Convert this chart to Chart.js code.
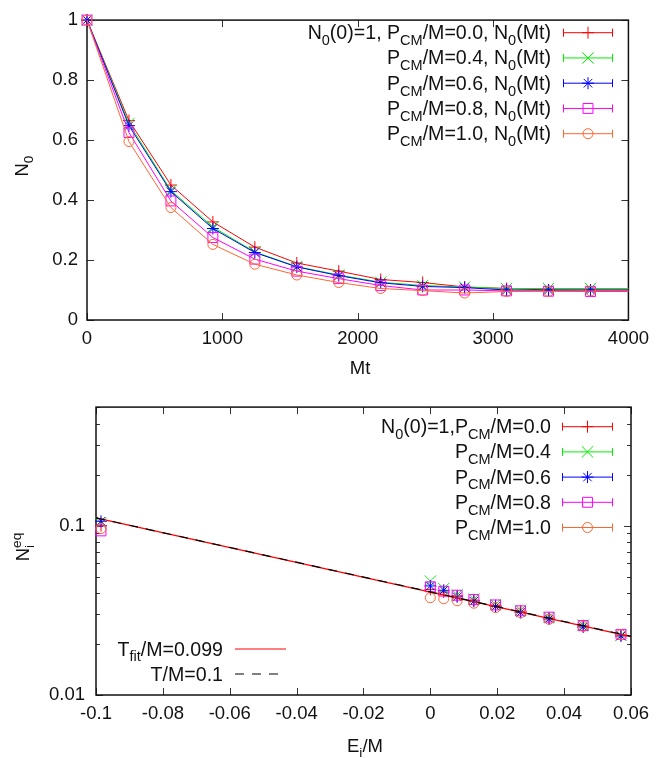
<!DOCTYPE html>
<html lang="en">
<head>
    <meta charset="UTF-8">
    <title>N0 relaxation and equilibrium occupation</title>
    <script src="https://cdn.jsdelivr.net/npm/chart.js"></script>
    <style>
        body {
            margin: 0;
            background-color: #fff;
        }
        canvas {
            display: block;
        }
    </style>
</head>
<body>
    <canvas id="topChart" width="657" height="385"></canvas>
    <canvas id="bottomChart" width="657" height="373"></canvas>
    <script>
        // --- top panel: N0(Mt) for each P_CM/M ---
        const topMt = [0, 310, 620, 930, 1240, 1550, 1860, 2170, 2480, 2790, 3100, 3410, 3720, 4030];
        const n0Pcm00 = [1, 0.665, 0.45, 0.327, 0.243, 0.19, 0.163, 0.135, 0.125, 0.11, 0.105, 0.1, 0.1, 0.1];
        const n0Pcm04 = [1, 0.655, 0.432, 0.31, 0.227, 0.178, 0.15, 0.126, 0.115, 0.11, 0.105, 0.105, 0.105, 0.105];
        const n0Pcm06 = [1, 0.648, 0.428, 0.305, 0.225, 0.177, 0.148, 0.124, 0.112, 0.108, 0.1, 0.1, 0.1, 0.1];
        const n0Pcm08 = [1, 0.625, 0.397, 0.275, 0.203, 0.163, 0.138, 0.115, 0.1, 0.1, 0.097, 0.096, 0.095, 0.095];
        const n0Pcm10 = [1, 0.595, 0.375, 0.252, 0.186, 0.15, 0.125, 0.105, 0.098, 0.09, 0.095, 0.095, 0.097, 0.097];
        const topXTicks = [0, 1000, 2000, 3000, 4000];
        const topXLabels = ['0', '1000', '2000', '3000', '4000'];
        const topYTicks = [0, 0.2, 0.4, 0.6, 0.8, 1];
        const topYLabels = ['0', '0.2', '0.4', '0.6', '0.8', '1'];
        const topLabels = [
            'N_{0}(0)=1, P_{CM}/M=0.0, N_{0}(Mt)',
            'P_{CM}/M=0.4, N_{0}(Mt)',
            'P_{CM}/M=0.6, N_{0}(Mt)',
            'P_{CM}/M=0.8, N_{0}(Mt)',
            'P_{CM}/M=1.0, N_{0}(Mt)'
        ];

        // --- bottom panel: N_i^eq vs E_i/M ---
        const eqE = [-0.0985, 0.0, 0.004, 0.008, 0.013, 0.0195, 0.027, 0.0355, 0.0457, 0.057];
        const eqPcm00 = [0.100, 0.042, 0.0405, 0.0385, 0.0362, 0.0337, 0.0312, 0.0285, 0.0256, 0.0226];
        const eqPcm04 = [0.103, 0.047, 0.0425, 0.039, 0.0368, 0.0342, 0.0316, 0.0287, 0.0258, 0.0225];
        const eqPcm06 = [0.106, 0.044, 0.0415, 0.038, 0.0358, 0.0333, 0.0307, 0.0281, 0.0252, 0.0223];
        const eqPcm08 = [0.093, 0.0435, 0.041, 0.0388, 0.0366, 0.034, 0.0314, 0.0288, 0.0257, 0.0228];
        const eqPcm10 = [0.096, 0.0375, 0.037, 0.036, 0.0348, 0.0328, 0.0305, 0.028, 0.0254, 0.0227];
        const fitE = [-0.1, 0.06];
        const fitN = [0.111, 0.0221];
        const t01N = [0.111, 0.0222];
        const botXTicks = [-0.1, -0.08, -0.06, -0.04, -0.02, 0, 0.02, 0.04, 0.06];
        const botXLabels = ['-0.1', '-0.08', '-0.06', '-0.04', '-0.02', '0', '0.02', '0.04', '0.06'];
        const botYTicks = [0.01, 0.1];
        const botYLabels = ['0.01', '0.1'];
        const botYMinor = [0.02, 0.03, 0.04, 0.05, 0.06, 0.07, 0.08, 0.09, 0.2, 0.3, 0.4, 0.5];
        const botLabels = [
            'N_{0}(0)=1,P_{CM}/M=0.0',
            'P_{CM}/M=0.4',
            'P_{CM}/M=0.6',
            'P_{CM}/M=0.8',
            'P_{CM}/M=1.0'
        ];
        const fitLabels = ['T_{fit}/M=0.099', 'T/M=0.1'];

        const colors = ['#ff0000', '#00f000', '#0000ff', '#ff00ff', '#ff6633'];
        const markers = ['cross', 'crossRot', 'star', 'rect', 'circle'];
        const radii = [6, 8, 6, 7, 5];

        const FONT = '"Liberation Sans", Arial, sans-serif';
        const FS = 18.5;     // ticks and axis titles
        const LFS = 19.6;    // key text
        Chart.defaults.font.family = FONT;
        Chart.defaults.font.size = FS;
        Chart.defaults.color = '#111';

        // text with _{sub} and ^{sup}
        function parseRich(str) {
            const segs = [];
            let i = 0, buf = '';
            while (i < str.length) {
                const c = str[i];
                if ((c === '_' || c === '^') && str[i + 1] === '{') {
                    if (buf) { segs.push({ t: buf, m: 0 }); buf = ''; }
                    const end = str.indexOf('}', i);
                    segs.push({ t: str.slice(i + 2, end), m: c === '_' ? 1 : 2 });
                    i = end + 1;
                } else {
                    buf += c;
                    i++;
                }
            }
            if (buf) segs.push({ t: buf, m: 0 });
            return segs;
        }

        function drawRich(ctx, str, x, y, size, align) {
            const small = size * 0.74;
            const items = [];
            let w = 0, prev = null;
            parseRich(str).forEach(s => {
                const fs = s.m ? small : size;
                ctx.font = fs + 'px ' + FONT;
                const tw = ctx.measureText(s.t).width;
                let sx = w;
                if (s.m === 2 && prev && prev.m === 1) sx = prev.x;
                const dy = s.m === 1 ? size * 0.3 : (s.m === 2 ? -size * 0.42 : 0);
                items.push({ t: s.t, x: sx, dy: dy, fs: fs });
                w = Math.max(w, sx + tw);
                prev = { m: s.m, x: sx };
            });
            const off = align === 'right' ? -w : (align === 'center' ? -w / 2 : 0);
            ctx.fillStyle = '#111';
            ctx.textBaseline = 'alphabetic';
            ctx.textAlign = 'left';
            items.forEach(it => {
                ctx.font = it.fs + 'px ' + FONT;
                ctx.fillText(it.t, x + off + it.x, y + it.dy);
            });
        }

        function drawMarker(ctx, style, r, x, y) {
            ctx.beginPath();
            if (style === 'circle') {
                ctx.arc(x, y, r, 0, Math.PI * 2);
            } else if (style === 'rect') {
                const s = r * Math.SQRT1_2;
                ctx.rect(x - s, y - s, 2 * s, 2 * s);
            } else {
                const d = r * Math.SQRT1_2;
                if (style === 'cross' || style === 'star') {
                    ctx.moveTo(x - r, y); ctx.lineTo(x + r, y);
                    ctx.moveTo(x, y - r); ctx.lineTo(x, y + r);
                }
                if (style === 'crossRot' || style === 'star') {
                    ctx.moveTo(x - d, y - d); ctx.lineTo(x + d, y + d);
                    ctx.moveTo(x - d, y + d); ctx.lineTo(x + d, y - d);
                }
            }
            ctx.stroke();
        }

        // frame, ticks, titles and legends like gnuplot
        const gpConf = {
            topChart: {
                xTicks: topXTicks, yTicks: topYTicks, yMinor: [],
                titles: [
                    { text: 'Mt', x: 360, y: 367, rot: false },
                    { text: 'N_{0}', x: 21, y: 166, rot: true }
                ],
                legends: [{
                    textRight: 551, x1: 563, x2: 613, y0: 32.7, dy: 25.25,
                    rows: topLabels.map((l, i) => ({ label: l, color: colors[i], style: markers[i], r: radii[i], kind: 'err' }))
                }]
            },
            bottomChart: {
                xTicks: botXTicks, yTicks: botYTicks, yMinor: botYMinor,
                titles: [
                    { text: 'E_{i}/M', x: 365, y: 360, rot: false },
                    { text: 'N_{i}^{eq}', x: 22, y: 162, rot: true }
                ],
                legends: [{
                    textRight: 551, x1: 562, x2: 613, y0: 41.7, dy: 25.2,
                    rows: botLabels.map((l, i) => ({ label: l, color: colors[i], style: markers[i], r: radii[i], kind: 'err' }))
                }, {
                    textRight: 223, x1: 235, x2: 286, y0: 264, dy: 25,
                    rows: [
                        { label: fitLabels[0], color: '#ff0000', kind: 'line', dash: [] },
                        { label: fitLabels[1], color: '#000000', kind: 'line', dash: [9, 8] }
                    ]
                }]
            }
        };

        const gpPlugin = {
            id: 'gp',
            beforeDatasetsDraw(chart) {
                const conf = gpConf[chart.canvas.id];
                const ctx = chart.ctx, a = chart.chartArea;
                const xs = chart.scales.x, ys = chart.scales.y;
                ctx.save();
                ctx.strokeStyle = '#333';
                ctx.lineWidth = 1;
                ctx.beginPath();
                conf.xTicks.forEach(v => {
                    const p = Math.round(xs.getPixelForValue(v)) + 0.5;
                    ctx.moveTo(p, a.bottom); ctx.lineTo(p, a.bottom - 7);
                    ctx.moveTo(p, a.top); ctx.lineTo(p, a.top + 7);
                });
                conf.yTicks.forEach(v => {
                    const p = Math.round(ys.getPixelForValue(v)) + 0.5;
                    ctx.moveTo(a.left, p); ctx.lineTo(a.left + 7, p);
                    ctx.moveTo(a.right, p); ctx.lineTo(a.right - 7, p);
                });
                conf.yMinor.forEach(v => {
                    const p = Math.round(ys.getPixelForValue(v)) + 0.5;
                    ctx.moveTo(a.left, p); ctx.lineTo(a.left + 4, p);
                    ctx.moveTo(a.right, p); ctx.lineTo(a.right - 4, p);
                });
                ctx.stroke();
                ctx.strokeStyle = '#111';
                ctx.lineWidth = 1.5;
                ctx.strokeRect(a.left, a.top, a.right - a.left, a.bottom - a.top);
                ctx.restore();
            },
            afterDraw(chart) {
                const conf = gpConf[chart.canvas.id];
                const ctx = chart.ctx;
                ctx.save();
                conf.titles.forEach(t => {
                    if (t.rot) {
                        ctx.save();
                        ctx.translate(t.x, t.y);
                        ctx.rotate(-Math.PI / 2);
                        drawRich(ctx, t.text, 0, FS * 0.36, FS, 'center');
                        ctx.restore();
                    } else {
                        drawRich(ctx, t.text, t.x, t.y + FS * 0.36, FS, 'center');
                    }
                });
                conf.legends.forEach(lg => {
                    lg.rows.forEach((row, i) => {
                        const y = lg.y0 + i * lg.dy;
                        drawRich(ctx, row.label, lg.textRight, y + 6.5, LFS, 'right');
                        ctx.strokeStyle = row.color;
                        ctx.lineWidth = 1;
                        ctx.setLineDash(row.dash || []);
                        ctx.beginPath();
                        ctx.moveTo(lg.x1, y); ctx.lineTo(lg.x2, y);
                        if (row.kind === 'err') {
                            ctx.moveTo(lg.x1 + 0.5, y - 4); ctx.lineTo(lg.x1 + 0.5, y + 4);
                            ctx.moveTo(lg.x2 - 0.5, y - 4); ctx.lineTo(lg.x2 - 0.5, y + 4);
                        }
                        ctx.stroke();
                        ctx.setLineDash([]);
                        if (row.kind === 'err') {
                            drawMarker(ctx, row.style, row.r, (lg.x1 + lg.x2) / 2, y);
                        }
                    });
                });
                ctx.restore();
            }
        };

        const pts = (xs, ys) => xs.map((x, i) => ({ x: x, y: ys[i] }));

        // top chart
        const topSeries = [n0Pcm00, n0Pcm04, n0Pcm06, n0Pcm08, n0Pcm10];
        new Chart(document.getElementById('topChart').getContext('2d'), {
            type: 'scatter',
            data: {
                datasets: topSeries.map((s, i) => ({
                    label: topLabels[i],
                    data: pts(topMt, s),
                    showLine: true,
                    borderColor: colors[i],
                    backgroundColor: 'rgba(0,0,0,0)',
                    borderWidth: 1,
                    pointStyle: markers[i],
                    pointRadius: topMt.map(x => (x > 4000 ? 0 : radii[i])),
                    pointBorderWidth: 1,
                    clip: { left: 10, top: 10, right: 0, bottom: 10 },
                    order: 10 - i
                }))
            },
            options: {
                responsive: false,
                animation: false,
                events: [],
                layout: { padding: { top: 12, right: 24, left: 0, bottom: 0 } },
                plugins: { legend: { display: false }, tooltip: { enabled: false } },
                scales: {
                    x: {
                        type: 'linear', min: 0, max: 4000,
                        grid: { display: false, drawTicks: false },
                        border: { display: false },
                        ticks: { padding: 8, maxRotation: 0, autoSkip: false, callback: (v, i) => topXLabels[i] },
                        afterBuildTicks: s => { s.ticks = topXTicks.map(v => ({ value: v })); },
                        afterFit: s => { s.height = 65; }
                    },
                    y: {
                        type: 'linear', min: 0, max: 1,
                        grid: { display: false, drawTicks: false },
                        border: { display: false },
                        ticks: { padding: 9, autoSkip: false, callback: (v, i) => topYLabels[i] },
                        afterBuildTicks: s => { s.ticks = topYTicks.map(v => ({ value: v })); },
                        afterFit: s => { s.width = 87; }
                    }
                }
            },
            plugins: [gpPlugin]
        });

        // bottom chart
        const eqSeries = [eqPcm00, eqPcm04, eqPcm06, eqPcm08, eqPcm10];
        const botSets = eqSeries.map((s, i) => ({
            label: botLabels[i],
            data: pts(eqE, s),
            showLine: false,
            borderColor: colors[i],
            backgroundColor: 'rgba(0,0,0,0)',
            pointStyle: markers[i],
            pointRadius: radii[i],
            pointBorderWidth: 1,
            clip: false,
            order: 10 - i
        }));
        botSets.push({
            label: fitLabels[0], data: pts(fitE, fitN), showLine: true,
            borderColor: '#ff0000', borderWidth: 1.2, pointRadius: 0, clip: false, order: 2
        });
        botSets.push({
            label: fitLabels[1], data: pts(fitE, t01N), showLine: true,
            borderColor: '#000000', borderWidth: 1.2, borderDash: [9, 8], pointRadius: 0, clip: false, order: 1
        });

        new Chart(document.getElementById('bottomChart').getContext('2d'), {
            type: 'scatter',
            data: { datasets: botSets },
            options: {
                responsive: false,
                animation: false,
                events: [],
                layout: { padding: { top: 21, right: 23, left: 0, bottom: 0 } },
                plugins: { legend: { display: false }, tooltip: { enabled: false } },
                scales: {
                    x: {
                        type: 'linear', min: -0.1, max: 0.06,
                        grid: { display: false, drawTicks: false },
                        border: { display: false },
                        ticks: { padding: 8, maxRotation: 0, autoSkip: false, callback: (v, i) => botXLabels[i] },
                        afterBuildTicks: s => { s.ticks = botXTicks.map(v => ({ value: v })); },
                        afterFit: s => { s.height = 63; }
                    },
                    y: {
                        type: 'logarithmic', min: 0.01, max: 0.5,
                        grid: { display: false, drawTicks: false },
                        border: { display: false },
                        ticks: { padding: 11, autoSkip: false, callback: (v, i) => botYLabels[i] },
                        afterBuildTicks: s => { s.ticks = botYTicks.map(v => ({ value: v })); },
                        afterFit: s => { s.width = 96; }
                    }
                }
            },
            plugins: [gpPlugin]
        });
    </script>
</body>
</html>
